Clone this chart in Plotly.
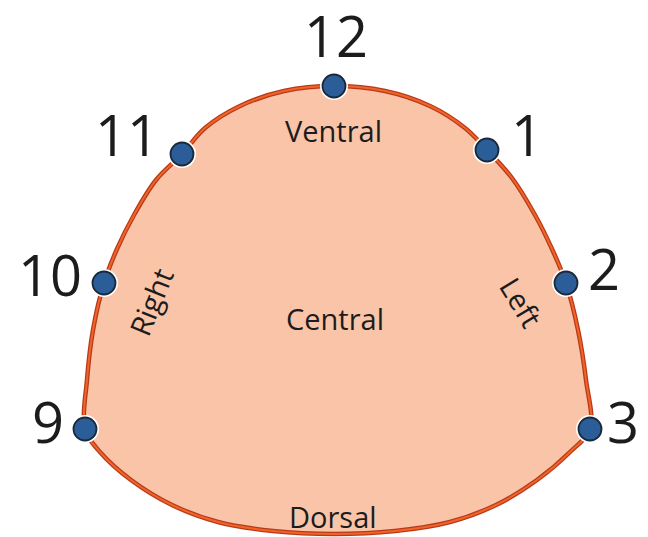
import plotly.graph_objects as go

# Clock-position markers (pixel-space coordinates of the diagram)
clock_labels = ["12", "1", "2", "3", "9", "10", "11"]
clock_x = [334, 487, 566, 590, 85, 104, 182]
clock_y = [86, 150, 283, 429, 429, 283, 154]

# Number label positions
num_x = [336, 527, 604, 623, 48, 50, 127]
num_y = [43, 142, 276, 429, 429, 282, 142]

# Outline of the cross-section (clockwise from top)
outline_x = [334, 385, 430, 465, 487, 512, 535, 552, 566, 578, 586, 590, 570, 537, 496, 450,
             395, 334, 273, 218, 172, 131, 100, 85, 87, 93, 104, 117, 134, 156, 182, 205, 240, 284, 334]
outline_y = [86, 91, 106, 128, 150, 178, 215, 249, 283, 330, 380, 429, 452, 480, 505, 522,
             531, 534, 531, 522, 505, 480, 452, 429, 380, 330, 283, 249, 215, 180, 154, 128, 106, 91, 86]

# Region names
region_names = ["Ventral", "Central", "Dorsal", "Right", "Left"]
region_x = [333, 335, 333, 150, 522]
region_y = [130, 318, 516, 302, 302]
region_angle = [0, 0, 0, -68, 59]

fig = go.Figure()

fig.add_trace(go.Scatter(
    x=outline_x, y=outline_y, mode="lines", fill="toself",
    fillcolor="#F9C4A7",
    line=dict(color="#B8391A", width=4.5, shape="spline", smoothing=1.0),
    hoverinfo="skip", showlegend=False))
fig.add_trace(go.Scatter(
    x=outline_x, y=outline_y, mode="lines",
    line=dict(color="#F06428", width=2, shape="spline", smoothing=1.0),
    hoverinfo="skip", showlegend=False))

# White halo behind markers
fig.add_trace(go.Scatter(
    x=clock_x, y=clock_y, mode="markers",
    marker=dict(size=28, color="white", line=dict(width=0)),
    hoverinfo="skip", showlegend=False))
fig.add_trace(go.Scatter(
    x=clock_x, y=clock_y, mode="markers",
    marker=dict(size=23, color="#2B5E99", line=dict(color="#1A2838", width=1.8)),
    hoverinfo="skip", showlegend=False))

fig.add_trace(go.Scatter(
    x=num_x, y=num_y, mode="text", text=clock_labels,
    textfont=dict(family="Open Sans", size=56, color="#1C1C1C"),
    textposition="middle center", cliponaxis=False,
    hoverinfo="skip", showlegend=False))

for name, x, y, ang in zip(region_names, region_x, region_y, region_angle):
    fig.add_annotation(x=x, y=y, xref="x", yref="y", text=name, showarrow=False,
                       textangle=ang,
                       font=dict(family="Open Sans", size=29, color="#1C1C1C"))

fig.update_xaxes(range=[0, 648], visible=False, fixedrange=True)
fig.update_yaxes(range=[537, 0], visible=False, fixedrange=True)
fig.update_layout(width=648, height=537, margin=dict(l=0, r=0, t=0, b=0),
                  paper_bgcolor="white", plot_bgcolor="white")

# Remove the default page margin so figure coordinates equal window pixels
fig.write_html("out.html", config={"displayModeBar": False},
               post_script="document.body.style.margin='0';")
